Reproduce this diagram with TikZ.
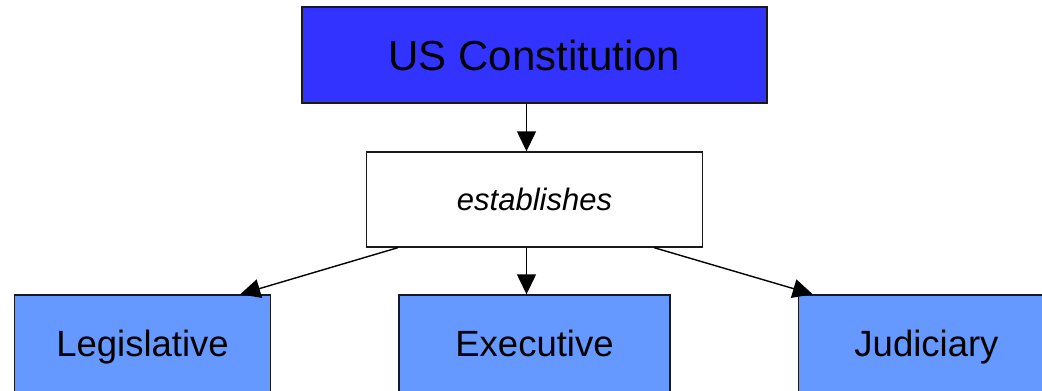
\documentclass[tikz,border=0pt]{standalone}
\usepackage{fontspec}
\setmainfont{Liberation Sans}
\usetikzlibrary{arrows.meta}
\definecolor{rootblue}{HTML}{3333FF}
\definecolor{branchblue}{HTML}{6699FF}
\definecolor{edge}{HTML}{1A1A1A}
\begin{document}
\begin{tikzpicture}[x=1pt,y=-1pt,
  box/.style={draw=edge,line width=1.4pt,rectangle,inner sep=0pt},
  branch/.style={box,fill=branchblue,minimum width=256pt,minimum height=104pt,
    font=\fontsize{36.5}{42}\selectfont,text height=26.1pt,text depth=6.2pt},
  link/.style={draw=black,line width=1.4pt,-{Triangle[length=20pt,width=19pt]}}]
\useasboundingbox (0,0) rectangle (1042,391);
\clip (0,0) rectangle (1042,391);
% root and relation boxes
\node[box,fill=rootblue,minimum width=465pt,minimum height=96pt,
  font=\fontsize{42}{48}\selectfont] (root) at (534.5,55) {US Constitution};
\node[box,fill=white,minimum width=336pt,minimum height=95pt,
  font=\itshape\fontsize{31}{36}\selectfont] (rel) at (534.5,199.5) {establishes};
% the three branches
\node[branch] (leg) at (142.5,347) {Legislative};
\node[branch,minimum width=271pt] (exe) at (534.5,347) {Executive};
\node[branch] (jud) at (926.5,347) {Judiciary};
% connectors
\draw[link] ([xshift=-8pt]root.south) -- ([xshift=-8pt]rel.north);
\draw[link] ([xshift=-8pt]rel.south) -- ([xshift=-8pt]exe.north);
\draw[link] ([xshift=32pt]rel.south west) -- ([xshift=-31pt]leg.north east);
\draw[link] ([xshift=-49pt]rel.south east) -- ([xshift=15pt]jud.north west);
\end{tikzpicture}
\end{document}
